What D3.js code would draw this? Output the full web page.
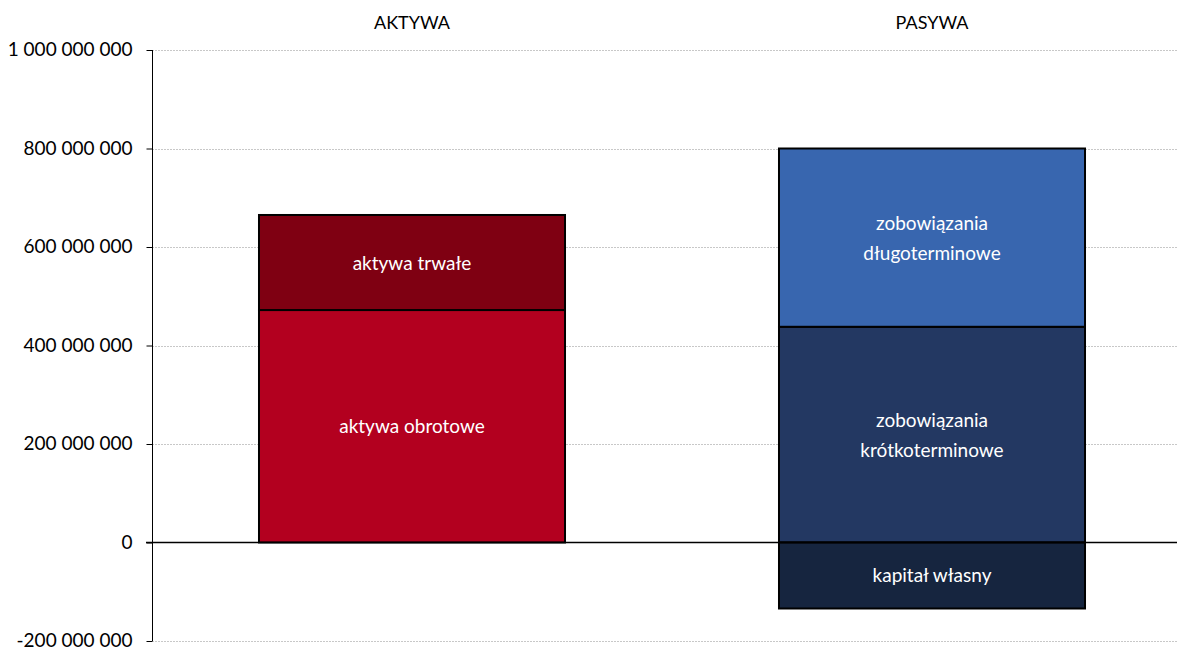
<!DOCTYPE html>
<html><head><meta charset="utf-8">
<script src="https://cdn.jsdelivr.net/npm/d3@7"></script>
<style>body{margin:0;background:#fff}svg{display:block}text{font-family:Lato,"Open Sans",sans-serif}</style>
</head><body>
<svg id="c" width="1177" height="648"></svg>
<script>
const categories = ["AKTYWA", "PASYWA"];
const segNames = ["aktywa obrotowe", "aktywa trwałe", "zobowiązania krótkoterminowe", "zobowiązania długoterminowe", "kapitał własny"];
const segCategory = ["AKTYWA", "AKTYWA", "PASYWA", "PASYWA", "PASYWA"];
const segValues = [472000000, 193000000, 438000000, 362000000, -134000000];
const segLabels = [["aktywa obrotowe"], ["aktywa trwałe"], ["zobowiązania", "krótkoterminowe"], ["zobowiązania", "długoterminowe"], ["kapitał własny"]];
const segColors = ["#b3001f", "#7f0012", "#233862", "#3866af", "#16253f"];
const yTicks = [-200000000, 0, 200000000, 400000000, 600000000, 800000000, 1000000000];

const svg = d3.select("#c");
const y = d3.scaleLinear().domain([-200000000, 1000000000]).range([641, 50]);
const x = d3.scaleBand().domain(categories).range([152, 1192]).paddingInner(0.4115).paddingOuter(0.4115/2);
const fmt = v => d3.format(",")(v).replace(/,/g, " ").replace("−", "-");

// stacking
const pos = {}, neg = {};
const segs = segValues.map((v, i) => {
  const c = segCategory[i];
  let y0, y1;
  if (v >= 0) { y0 = pos[c] || 0; y1 = y0 + v; pos[c] = y1; }
  else { y0 = neg[c] || 0; y1 = y0 + v; neg[c] = y1; }
  return {c, y0, y1, label: segLabels[i], color: segColors[i]};
});

// gridlines
svg.append("g").selectAll("line").data(yTicks.filter(t => t !== 0)).join("line")
  .attr("x1", 152).attr("x2", 1177).attr("y1", d => Math.round(y(d)) + 0.5).attr("y2", d => Math.round(y(d)) + 0.5)
  .attr("stroke", "#c8c8c8").attr("stroke-width", 1).attr("stroke-dasharray", "2,1");

// axis
const ax = d3.axisLeft(y).tickValues(yTicks).tickFormat(fmt).tickSize(6).tickPadding(14);
const g = svg.append("g").attr("transform", "translate(152.5,0)").call(ax);
g.select(".domain").attr("stroke", "#000").attr("d", `M0,${y(1000000000)}V${y(-200000000)}`);
g.selectAll(".tick line").attr("stroke", "#000");
g.selectAll(".tick text").attr("font-size", 19).attr("fill", "#000").attr("font-family", "Lato, 'Open Sans', sans-serif").attr("dy", "0.3em");

// bars
svg.append("g").selectAll("rect").data(segs).join("rect")
  .attr("x", d => x(d.c)).attr("width", x.bandwidth())
  .attr("y", d => y(Math.max(d.y0, d.y1))).attr("height", d => Math.abs(y(d.y0) - y(d.y1)))
  .attr("fill", d => d.color).attr("stroke", "#000").attr("stroke-width", 2);

// zero line
svg.append("line").attr("x1", 146).attr("x2", 1177).attr("y1", y(0)).attr("y2", y(0)).attr("stroke", "#000").attr("stroke-width", 1.3);

// bar labels
segs.forEach(d => {
  const cx = x(d.c) + x.bandwidth() / 2;
  const cy = (y(d.y0) + y(d.y1)) / 2;
  const n = d.label.length;
  const t = svg.append("text").attr("x", cx).attr("text-anchor", "middle").attr("fill", "#fff").attr("font-size", 19);
  d.label.forEach((l, i) => {
    t.append("tspan").attr("x", cx).attr("y", cy + (i - (n - 1) / 2) * 30 + 7).text(l);
  });
});

// category titles
svg.append("g").selectAll("text").data(categories).join("text")
  .attr("x", d => x(d) + x.bandwidth() / 2).attr("y", 29).attr("text-anchor", "middle")
  .attr("font-size", 18).attr("fill", "#000").text(d => d);
</script>
</body></html>
